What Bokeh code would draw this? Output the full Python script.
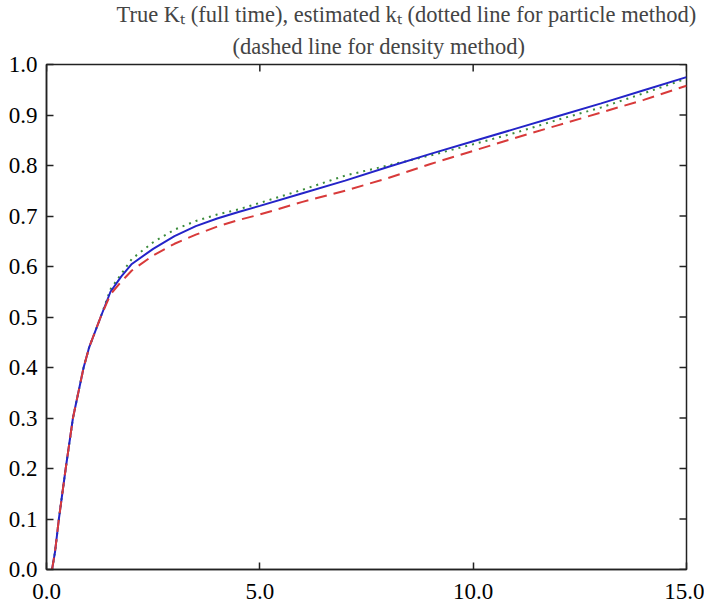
import math
from bokeh.plotting import figure
from bokeh.models import Range1d, LinearAxis, FixedTicker, Title
from bokeh.embed import file_html
from bokeh.resources import INLINE

# ---- data ----
t_vals = [0.13, 0.2, 0.29, 0.45, 0.62, 0.87, 1.0, 1.27, 1.5, 1.75, 2.0, 2.5, 3.0, 3.5,
          4.0, 4.5, 5.0, 6.0, 7.0, 8.0, 9.0, 10.0, 11.0, 12.0, 13.0, 14.0, 15.0]
true_K = [0.0, 0.035, 0.1, 0.2, 0.3, 0.4, 0.44, 0.5, 0.55, 0.58, 0.605, 0.635, 0.66, 0.68,
          0.695, 0.708, 0.72, 0.745, 0.77, 0.797, 0.823, 0.848, 0.873, 0.898, 0.923, 0.949, 0.975]
particle_k = [0.0, 0.035, 0.1, 0.2, 0.3, 0.4, 0.44, 0.5, 0.555, 0.585, 0.615, 0.648, 0.673, 0.69,
              0.703, 0.713, 0.726, 0.752, 0.78, 0.80, 0.82, 0.842, 0.865, 0.891, 0.915, 0.943, 0.972]
density_k = [0.0, 0.035, 0.1, 0.2, 0.3, 0.4, 0.44, 0.5, 0.545, 0.57, 0.592, 0.622, 0.645, 0.663,
             0.679, 0.692, 0.703, 0.728, 0.75, 0.775, 0.803, 0.829, 0.855, 0.88, 0.905, 0.93, 0.958]

x_ticks = [0, 5, 10, 15]
x_tick_labels = ["0.0", "5.0", "10.0", "15.0"]
y_ticks = [0.0, 0.1, 0.2, 0.3, 0.4, 0.5, 0.6, 0.7, 0.8, 0.9, 1.0]
y_tick_labels = ["0.0", "0.1", "0.2", "0.3", "0.4", "0.5", "0.6", "0.7", "0.8", "0.9", "1.0"]

title_line1 = "True K\u209c (full time), estimated k\u209c (dotted line for particle method)"
title_line2 = "(dashed line for density method)"

FONT = "'Liberation Serif', 'Times New Roman', serif"
AX = "#222222"

p = figure(width=704, height=603, output_backend="svg", toolbar_location=None,
           x_range=Range1d(0, 15), y_range=Range1d(0, 1),
           x_axis_type=None, y_axis_type=None)
p.min_border_left = 46
p.min_border_right = 18
p.min_border_top = 0
p.min_border_bottom = 34
p.xgrid.visible = False
p.ygrid.visible = False
p.outline_line_color = AX
p.outline_line_width = 1.5
p.background_fill_color = "white"
p.border_fill_color = "white"

def make_axis(ticks, labels, standoff, line_height=1.0):
    ax = LinearAxis(ticker=FixedTicker(ticks=ticks))
    ax.major_label_overrides = {t: l for t, l in zip(ticks, labels)}
    ax.major_tick_in = 7
    ax.major_tick_out = 0
    ax.minor_tick_in = 0
    ax.minor_tick_out = 0
    ax.major_tick_line_width = 1.5
    ax.major_tick_line_color = AX
    ax.axis_line_color = AX
    ax.axis_line_width = 1.5
    ax.major_label_text_font = FONT
    ax.major_label_text_color = "black"
    ax.major_label_text_font_size = "23px"
    ax.major_label_text_line_height = line_height
    ax.major_label_standoff = standoff
    return ax

p.add_layout(make_axis(x_ticks, x_tick_labels, 14, 0.75), "below")
p.add_layout(make_axis(y_ticks, y_tick_labels, 9), "left")

p.add_layout(Title(text=title_line2, text_font=FONT, text_font_size="22.5px",
                   text_font_style="normal", align="left", offset=186, standoff=12), "above")
p.add_layout(Title(text=title_line1, text_font=FONT, text_font_size="22.5px",
                   text_font_style="normal", align="left", offset=70, standoff=-2), "above")

# inward ticks on the top and right edges of the frame
p.ray(x=x_ticks, y=[y_ticks[-1]] * len(x_ticks), length=7, length_units="screen",
      angle=-math.pi / 2, line_color=AX, line_width=1.5)
p.ray(x=[x_ticks[-1]] * len(y_ticks), y=y_ticks, length=7, length_units="screen",
      angle=math.pi, line_color=AX, line_width=1.5)

p.line(t_vals, particle_k, line_color="#3c8c3c", line_width=2, line_dash="2 5")
p.line(t_vals, true_K, line_color="#2424c8", line_width=2)
p.line(t_vals, density_k, line_color="#d83a3a", line_width=2, line_dash="12 7")

open("out.html", "w").write(file_html(p, INLINE))
